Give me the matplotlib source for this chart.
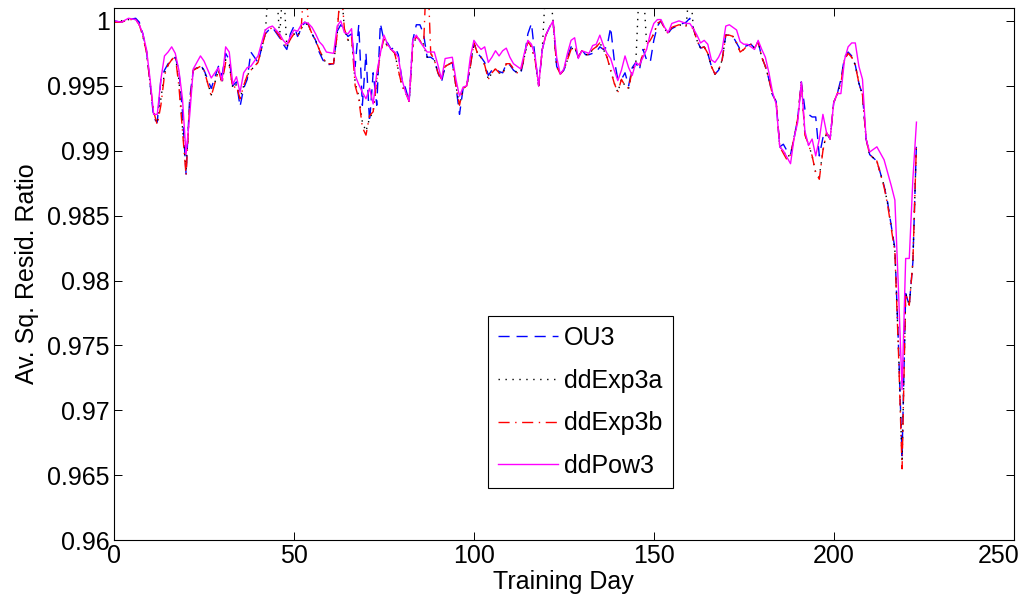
import numpy as np
import matplotlib
matplotlib.use('Agg')
import matplotlib.pyplot as plt
from matplotlib.transforms import ScaledTranslation

# training days (shared knots for all series)
days = [0, 2, 4, 6, 7, 8, 9, 10, 11, 12,
        13, 14, 15, 16, 17, 18, 19, 20, 21, 22,
        24, 25, 27, 29, 30, 31, 32, 33, 34, 35,
        36, 37, 38, 40, 42, 43, 44, 45, 46, 47,
        48, 49, 50, 51, 52, 53, 54, 55, 56, 57,
        58, 59, 61, 62, 63, 64, 65, 66, 67, 68,
        69, 70, 71, 72, 73, 74, 75, 76, 77, 78,
        79, 80, 81, 82, 83, 84, 85, 86, 87, 88,
        89, 90, 91, 92, 94, 95, 96, 97, 98, 99,
        100, 101, 102, 103, 104, 105, 106, 107, 108, 109,
        110, 111, 112, 113, 114, 115, 116, 117, 118, 119,
        120, 121, 122, 123, 124, 125, 126, 127, 128, 129,
        130, 131, 132, 133, 134, 135, 136, 137, 138, 139,
        140, 141, 142, 143, 144, 145, 146, 147, 148, 149,
        150, 151, 152, 153, 154, 155, 157, 159, 160, 161,
        162, 163, 164, 165, 166, 167, 168, 169, 170, 171,
        172, 173, 174, 175, 176, 177, 178, 179, 180, 181,
        182, 183, 184, 185, 186, 187, 188, 189, 190, 191,
        192, 193, 194, 195, 196, 197, 198, 199, 200, 201,
        202, 203, 204, 205, 206, 207, 208, 209, 210, 212,
        214, 215, 216, 217, 218, 219, 220, 221, 222, 223]

ou3 = [1.0000, 0.9999, 1.0001, 1.0002, 0.9999, 0.9990, 0.9977, 0.9952, 0.9925, 0.9922,
       0.9955, 0.9962, 0.9967, 0.9969, 0.9972, 0.9962, 0.9930, 0.9882, 0.9940, 0.9962,
       0.9966, 0.9962, 0.9948, 0.9965, 0.9958, 0.9975, 0.9970, 0.9950, 0.9953, 0.9934,
       0.9948, 0.9955, 0.9976, 0.9968, 0.9990, 0.9993, 0.9995, 0.9991, 0.9987, 0.9982,
       0.9978, 0.9990, 0.9996, 0.9988, 0.9994, 0.9999, 0.9997, 0.9990, 0.9985, 0.9976,
       0.9970, 0.9966, 0.9967, 0.9992, 0.9997, 0.9992, 0.9988, 0.9990, 0.9965, 0.9997,
       0.9935, 0.9975, 0.9922, 0.9960, 0.9935, 0.9998, 0.9985, 0.9983, 0.9978, 0.9980,
       0.9974, 0.9955, 0.9948, 0.9938, 0.9985, 0.9997, 0.9997, 0.9990, 0.9972, 0.9972,
       0.9970, 0.9960, 0.9953, 0.9965, 0.9968, 0.9950, 0.9928, 0.9948, 0.9950, 0.9965,
       0.9983, 0.9975, 0.9972, 0.9968, 0.9958, 0.9962, 0.9963, 0.9961, 0.9960, 0.9967,
       0.9966, 0.9962, 0.9960, 0.9959, 0.9972, 0.9990, 0.9998, 0.9972, 0.9950, 0.9978,
       0.9989, 0.9995, 1.0000, 0.9965, 0.9959, 0.9962, 0.9972, 0.9980, 0.9980, 0.9972,
       0.9978, 0.9974, 0.9974, 0.9975, 0.9976, 0.9980, 0.9978, 0.9980, 0.9995, 0.9970,
       0.9955, 0.9955, 0.9960, 0.9950, 0.9964, 0.9968, 0.9962, 0.9978, 0.9970, 0.9968,
       0.9985, 0.9996, 1.0000, 0.9994, 0.9991, 0.9994, 0.9997, 0.9999, 1.0002, 0.9994,
       0.9985, 0.9979, 0.9980, 0.9975, 0.9965, 0.9959, 0.9962, 0.9970, 0.9989, 0.9989,
       0.9988, 0.9983, 0.9978, 0.9980, 0.9981, 0.9982, 0.9979, 0.9984, 0.9972, 0.9965,
       0.9955, 0.9943, 0.9938, 0.9903, 0.9905, 0.9900, 0.9897, 0.9910, 0.9925, 0.9953,
       0.9932, 0.9928, 0.9926, 0.9926, 0.9896, 0.9910, 0.9914, 0.9909, 0.9937, 0.9944,
       0.9955, 0.9972, 0.9976, 0.9973, 0.9966, 0.9952, 0.9943, 0.9909, 0.9897, 0.9892,
       0.9873, 0.9860, 0.9842, 0.9825, 0.9750, 0.9665, 0.9790, 0.9781, 0.9814, 0.9906]

dd_exp3a = [0.9999, 1.0000, 1.0001, 1.0001, 0.9997, 0.9988, 0.9976, 0.9952, 0.9928, 0.9921,
            0.9940, 0.9960, 0.9966, 0.9970, 0.9973, 0.9955, 0.9918, 0.9886, 0.9935, 0.9962,
            0.9965, 0.9962, 0.9943, 0.9962, 0.9952, 0.9970, 0.9966, 0.9948, 0.9951, 0.9940,
            0.9950, 0.9958, 0.9962, 0.9968, 0.9990, 1.0030, 1.0030, 1.0030, 0.9988, 1.0030,
            0.9980, 0.9986, 0.9990, 0.9988, 0.9994, 0.9998, 0.9997, 0.9990, 0.9985, 0.9978,
            0.9972, 0.9967, 0.9967, 0.9990, 1.0030, 0.9994, 0.9985, 0.9988, 0.9952, 0.9942,
            0.9922, 0.9915, 0.9925, 0.9930, 0.9955, 0.9975, 0.9986, 0.9980, 0.9978, 0.9975,
            0.9962, 0.9950, 0.9945, 0.9938, 0.9980, 0.9988, 0.9985, 0.9982, 0.9972, 0.9975,
            0.9970, 0.9960, 0.9955, 0.9965, 0.9968, 0.9950, 0.9935, 0.9948, 0.9950, 0.9965,
            0.9983, 0.9975, 0.9972, 0.9966, 0.9955, 0.9960, 0.9963, 0.9960, 0.9959, 0.9967,
            0.9967, 0.9963, 0.9960, 0.9961, 0.9972, 0.9984, 0.9980, 0.9970, 0.9950, 0.9978,
            1.0030, 1.0030, 1.0000, 0.9965, 0.9959, 0.9962, 0.9970, 0.9978, 0.9980, 0.9972,
            0.9977, 0.9974, 0.9974, 0.9978, 0.9980, 0.9983, 0.9978, 0.9972, 0.9962, 0.9952,
            0.9945, 0.9955, 0.9950, 0.9948, 0.9962, 0.9968, 1.0030, 1.0030, 0.9982, 0.9985,
            0.9990, 0.9998, 1.0000, 0.9994, 0.9990, 0.9995, 0.9997, 0.9996, 1.0030, 0.9994,
            0.9985, 0.9979, 0.9980, 0.9975, 0.9965, 0.9959, 0.9962, 0.9970, 0.9989, 0.9989,
            0.9988, 0.9983, 0.9976, 0.9978, 0.9981, 0.9982, 0.9979, 0.9984, 0.9972, 0.9965,
            0.9955, 0.9943, 0.9938, 0.9903, 0.9900, 0.9895, 0.9897, 0.9910, 0.9925, 0.9953,
            0.9912, 0.9905, 0.9896, 0.9883, 0.9880, 0.9900, 0.9914, 0.9909, 0.9937, 0.9944,
            0.9952, 0.9970, 0.9975, 0.9972, 0.9966, 0.9952, 0.9943, 0.9909, 0.9897, 0.9892,
            0.9873, 0.9859, 0.9841, 0.9823, 0.9748, 0.9660, 0.9790, 0.9781, 0.9814, 0.9906]

dd_exp3b = [0.9999, 0.9999, 1.0001, 1.0001, 0.9997, 0.9988, 0.9976, 0.9952, 0.9930, 0.9920,
            0.9935, 0.9958, 0.9966, 0.9970, 0.9973, 0.9950, 0.9915, 0.9881, 0.9935, 0.9962,
            0.9965, 0.9962, 0.9942, 0.9962, 0.9952, 0.9968, 0.9966, 0.9948, 0.9950, 0.9940,
            0.9950, 0.9958, 0.9962, 0.9968, 0.9990, 0.9993, 0.9995, 0.9992, 0.9988, 0.9983,
            0.9980, 0.9986, 0.9990, 0.9988, 0.9994, 1.0040, 0.9997, 0.9990, 0.9985, 0.9978,
            0.9972, 0.9967, 0.9967, 0.9990, 1.0030, 0.9994, 0.9985, 0.9988, 0.9950, 0.9940,
            0.9918, 0.9912, 0.9927, 0.9930, 0.9955, 0.9975, 0.9986, 0.9980, 0.9978, 0.9975,
            0.9962, 0.9950, 0.9945, 0.9938, 0.9980, 0.9988, 0.9985, 0.9980, 1.0050, 0.9975,
            0.9970, 0.9960, 0.9955, 0.9965, 0.9968, 0.9950, 0.9935, 0.9948, 0.9950, 0.9965,
            0.9983, 0.9975, 0.9972, 0.9966, 0.9955, 0.9960, 0.9963, 0.9960, 0.9959, 0.9967,
            0.9967, 0.9963, 0.9960, 0.9961, 0.9972, 0.9984, 0.9980, 0.9970, 0.9950, 0.9978,
            0.9989, 0.9995, 1.0000, 0.9965, 0.9959, 0.9962, 0.9970, 0.9978, 0.9980, 0.9972,
            0.9977, 0.9974, 0.9974, 0.9978, 0.9980, 0.9983, 0.9978, 0.9972, 0.9962, 0.9952,
            0.9945, 0.9955, 0.9950, 0.9948, 0.9962, 0.9966, 0.9965, 0.9975, 0.9982, 0.9985,
            0.9990, 0.9998, 1.0000, 0.9994, 0.9990, 0.9995, 0.9997, 0.9996, 0.9996, 0.9994,
            0.9985, 0.9979, 0.9980, 0.9975, 0.9965, 0.9959, 0.9962, 0.9970, 0.9989, 0.9989,
            0.9988, 0.9983, 0.9976, 0.9978, 0.9981, 0.9982, 0.9979, 0.9984, 0.9972, 0.9965,
            0.9955, 0.9943, 0.9938, 0.9903, 0.9898, 0.9893, 0.9897, 0.9910, 0.9925, 0.9953,
            0.9912, 0.9905, 0.9896, 0.9883, 0.9878, 0.9900, 0.9914, 0.9909, 0.9937, 0.9944,
            0.9952, 0.9970, 0.9975, 0.9972, 0.9966, 0.9952, 0.9943, 0.9909, 0.9897, 0.9892,
            0.9872, 0.9858, 0.9840, 0.9822, 0.9745, 0.9655, 0.9790, 0.9781, 0.9814, 0.9906]

dd_pow3 = [1.0000, 0.9999, 1.0002, 1.0001, 0.9997, 0.9990, 0.9978, 0.9955, 0.9928, 0.9928,
           0.9955, 0.9973, 0.9976, 0.9980, 0.9975, 0.9962, 0.9940, 0.9897, 0.9927, 0.9963,
           0.9973, 0.9969, 0.9956, 0.9964, 0.9954, 0.9980, 0.9976, 0.9951, 0.9957, 0.9945,
           0.9960, 0.9964, 0.9965, 0.9973, 0.9993, 0.9995, 0.9996, 0.9993, 0.9990, 0.9985,
           0.9982, 0.9988, 0.9993, 0.9992, 0.9997, 0.9999, 0.9998, 0.9995, 0.9990, 0.9984,
           0.9981, 0.9976, 0.9975, 0.9996, 1.0000, 0.9991, 0.9990, 0.9994, 0.9958, 0.9951,
           0.9945, 0.9940, 0.9948, 0.9936, 0.9960, 0.9975, 0.9989, 0.9982, 0.9978, 0.9976,
           0.9972, 0.9955, 0.9945, 0.9938, 0.9985, 0.9989, 0.9984, 0.9980, 0.9976, 0.9976,
           0.9976, 0.9966, 0.9955, 0.9971, 0.9972, 0.9955, 0.9942, 0.9949, 0.9950, 0.9972,
           0.9985, 0.9981, 0.9978, 0.9980, 0.9968, 0.9972, 0.9977, 0.9973, 0.9977, 0.9979,
           0.9972, 0.9967, 0.9965, 0.9963, 0.9975, 0.9985, 0.9982, 0.9973, 0.9950, 0.9978,
           0.9989, 0.9995, 1.0000, 0.9972, 0.9959, 0.9963, 0.9975, 0.9985, 0.9987, 0.9971,
           0.9977, 0.9976, 0.9975, 0.9981, 0.9982, 0.9989, 0.9981, 0.9975, 0.9971, 0.9962,
           0.9954, 0.9962, 0.9973, 0.9964, 0.9958, 0.9968, 0.9966, 0.9972, 0.9978, 0.9990,
           0.9998, 1.0001, 1.0001, 0.9995, 0.9991, 0.9998, 1.0000, 0.9998, 0.9998, 0.9994,
           0.9989, 0.9983, 0.9985, 0.9982, 0.9970, 0.9968, 0.9972, 0.9978, 0.9996, 0.9997,
           0.9995, 0.9993, 0.9984, 0.9982, 0.9982, 0.9980, 0.9978, 0.9985, 0.9978, 0.9972,
           0.9960, 0.9945, 0.9936, 0.9903, 0.9900, 0.9895, 0.9890, 0.9910, 0.9922, 0.9953,
           0.9915, 0.9904, 0.9909, 0.9896, 0.9909, 0.9928, 0.9914, 0.9909, 0.9937, 0.9944,
           0.9944, 0.9970, 0.9980, 0.9983, 0.9983, 0.9965, 0.9955, 0.9909, 0.9899, 0.9903,
           0.9893, 0.9883, 0.9873, 0.9862, 0.9793, 0.9716, 0.9817, 0.9817, 0.9878, 0.9922]

series_names = ["OU3", "ddExp3a", "ddExp3b", "ddPow3"]
yticks = [0.96, 0.965, 0.97, 0.975, 0.98, 0.985, 0.99, 0.995, 1.0]
xticks = [0, 50, 100, 150, 200, 250]

plt.rcParams['font.family'] = ['Liberation Sans', 'DejaVu Sans']
fs = 18

fig = plt.figure(figsize=(10.28, 6.07), dpi=100)
ax = fig.add_axes([0.111, 0.110, 0.875, 0.877])

lw = 1.0
ax.plot(days, ou3, color="blue", lw=lw, dashes=(8, 5), label=series_names[0])
ax.plot(days, dd_exp3a, color="black", lw=lw, dashes=(1, 4), label=series_names[1])
ax.plot(days, dd_exp3b, color="red", lw=lw, dashes=(8, 4, 1, 4), label=series_names[2])
ax.plot(days, dd_pow3, color="magenta", lw=lw, label=series_names[3])

ax.set_xlim(0, 250); ax.set_ylim(0.96, 1.001)
ax.set_xticks(xticks); ax.set_yticks(yticks)
ax.set_yticklabels([f"{v:g}" for v in yticks])
ax.tick_params(direction="in", top=True, right=True, length=6, width=0.7, labelsize=fs, pad=3)
# last x label sits against the figure edge, as in the original export
last = ax.get_xticklabels()[-1]
last.set_horizontalalignment("right")
last.set_transform(last.get_transform() + ScaledTranslation(4 / 72, 0, fig.dpi_scale_trans))
for s in ax.spines.values():
    s.set_linewidth(0.8)
ax.set_xlabel("Training Day", fontsize=fs, labelpad=1)
ax.set_ylabel("Av. Sq. Resid. Ratio", fontsize=fs, labelpad=6)

leg = ax.legend(loc="lower left", bbox_to_anchor=(0.4156, 0.0977), fontsize=fs,
                fancybox=False, framealpha=1, edgecolor="black", handlelength=2.4,
                handletextpad=0.25, labelspacing=0.75, borderaxespad=0)
leg.get_frame().set_linewidth(0.8)

fig.savefig("out.png", dpi=100)
plt.close(fig)
